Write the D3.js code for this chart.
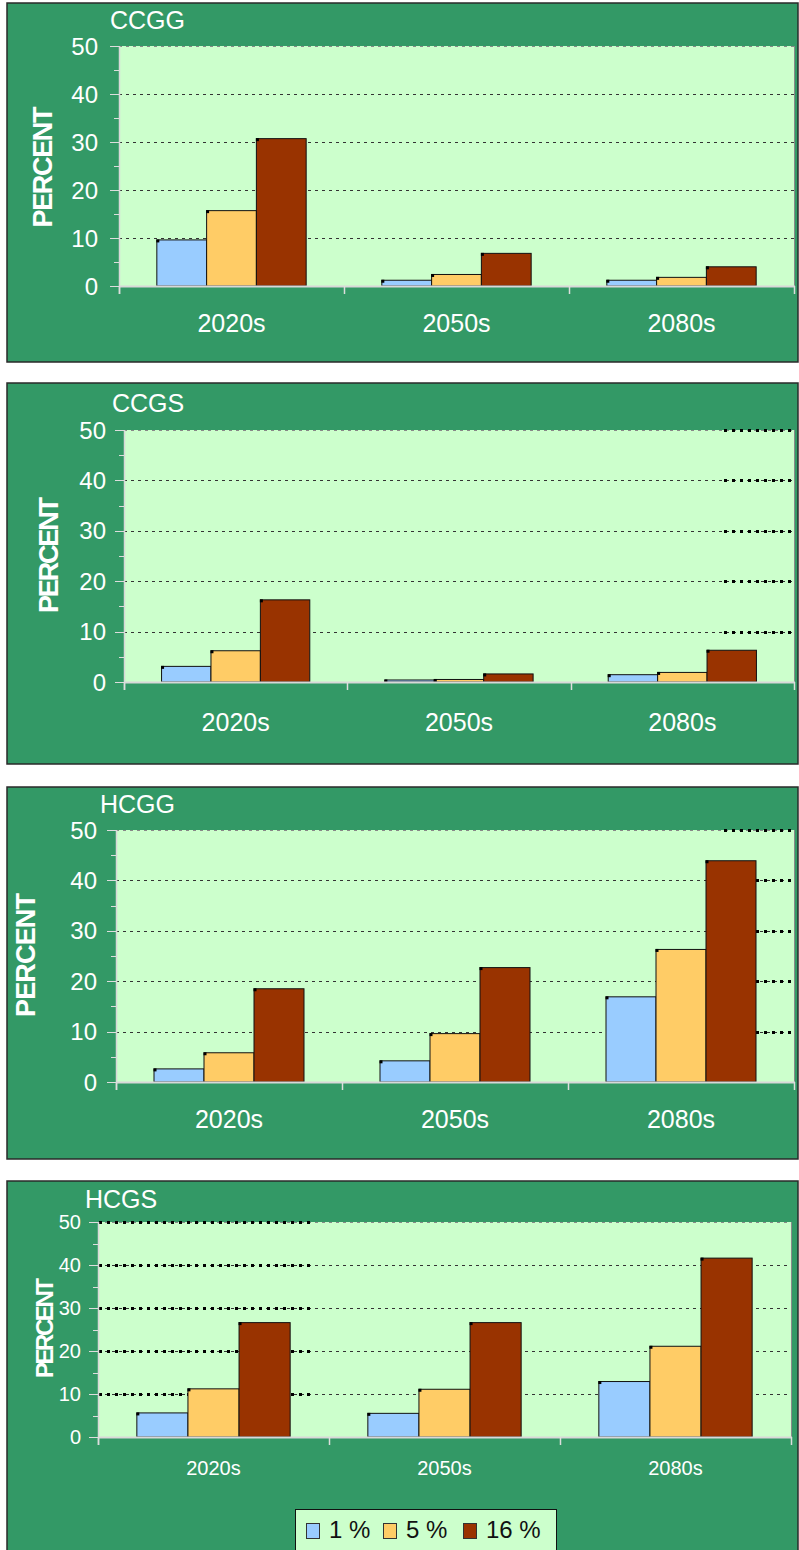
<!DOCTYPE html>
<html>
<head>
<meta charset="utf-8">
<script src="https://cdn.jsdelivr.net/npm/d3@7"></script>
<style>
  html, body { margin: 0; padding: 0; background: #ffffff; }
  svg { display: block; }
  text { font-family: "Liberation Sans", Arial, sans-serif; }
</style>
</head>
<body>
<svg id="chart" width="799" height="1550"></svg>
<script>
// Shared categories, series and ticks
const categories = ["2020s", "2050s", "2080s"];
const seriesLabels = ["1 %", "5 %", "16 %"];
const yTicks = [0, 10, 20, 30, 40, 50];
const yMinorTicks = [5, 15, 25, 35, 45];

// Percent values per period: [1 %, 5 %, 16 %]
const ccggValues = [[9.6, 15.7, 30.7], [1.2, 2.4, 6.8], [1.2, 1.8, 4.0]];
const ccgsValues = [[3.1, 6.2, 16.3], [0.4, 0.5, 1.6], [1.45, 1.9, 6.3]];
const hcggValues = [[2.6, 5.8, 18.5], [4.2, 9.6, 22.7], [16.9, 26.3, 43.9]];
const hcgsValues = [[5.6, 11.2, 26.6], [5.5, 11.1, 26.6], [12.9, 21.1, 41.6]];

const panelTitles = ["CCGG", "CCGS", "HCGG", "HCGS"];
const panelValues = [ccggValues, ccgsValues, hcggValues, hcgsValues];

const colors = ["#99CCFF", "#FFCC66", "#993300"];

// Layout of each panel frame and its plot area
const layouts = [
  { box: [7, 3, 791, 359], plot: { l: 119, t: 46, r: 794, b: 286 },
    title: { x: 110, y: 29, size: 25 }, tickSize: 24, tickGap: 21,
    catSize: 25, catDy: 46, yLab: { x: 42, y: 167, len: 121, size: 27 }, heavy: [] },
  { box: [7, 383, 791, 381], plot: { l: 124, t: 430, r: 794, b: 682 },
    title: { x: 112, y: 412, size: 25 }, tickSize: 24, tickGap: 18,
    catSize: 25, catDy: 49, yLab: { x: 48, y: 555, len: 116, size: 27 }, heavy: [[724, 792, [10, 20, 30, 40, 50]]] },
  { box: [7, 787, 791, 372], plot: { l: 116, t: 830, r: 794, b: 1082 },
    title: { x: 100, y: 813, size: 25 }, tickSize: 24, tickGap: 19,
    catSize: 25, catDy: 46, yLab: { x: 25, y: 955, len: 124, size: 27 }, heavy: [[724, 792, [10, 20, 30, 40, 50]]] },
  { box: [7, 1181, 791, 380], plot: { l: 98, t: 1222, r: 791, b: 1437 },
    title: { x: 85, y: 1208, size: 25 }, tickSize: 20, tickGap: 17,
    catSize: 20, catDy: 38, yLab: { x: 44, y: 1328, len: 100, size: 24 }, heavy: [[99, 310, [10, 20, 30, 40, 50]]] }
];

const svg = d3.select("#chart");

layouts.forEach((L, i) => {
  const values = panelValues[i];
  const g = svg.append("g");
  const P = L.plot;

  // Panel frame
  g.append("rect")
    .attr("x", L.box[0]).attr("y", L.box[1])
    .attr("width", L.box[2]).attr("height", L.box[3])
    .attr("fill", "#339966").attr("stroke", "#2a2a2a").attr("stroke-width", 1.5);

  // Plot background
  g.append("rect")
    .attr("x", P.l).attr("y", P.t)
    .attr("width", P.r - P.l).attr("height", P.b - P.t)
    .attr("fill", "#CCFFCC");

  const y = d3.scaleLinear().domain([0, 50]).range([P.b, P.t]);
  const x0 = d3.scaleBand().domain(categories).range([P.l, P.r]).padding(0);
  const x1 = d3.scaleBand().domain(seriesLabels).range([0, x0.bandwidth()])
    .paddingInner(0).paddingOuter(0.76);

  // Gridlines
  g.append("g").selectAll("line")
    .data(yTicks.filter(t => t > 0))
    .join("line")
    .attr("x1", P.l).attr("x2", P.r)
    .attr("y1", d => Math.round(y(d)) + 0.5).attr("y2", d => Math.round(y(d)) + 0.5)
    .attr("stroke", d => d === 50 ? "#888" : "#333")
    .attr("stroke-width", 1)
    .attr("stroke-dasharray", "3,4");

  // Heavier dotted gridline stretches
  L.heavy.forEach(([xa, xb, ticks]) => {
    g.append("g").selectAll("line")
      .data(ticks)
      .join("line")
      .attr("x1", xa).attr("x2", xb)
      .attr("y1", d => Math.round(y(d)) + 0.5).attr("y2", d => Math.round(y(d)) + 0.5)
      .attr("stroke", "#000")
      .attr("stroke-width", 3)
      .attr("stroke-dasharray", "3,5");
  });

  // Right border of plot
  g.append("line")
    .attr("x1", P.r + 0.5).attr("x2", P.r + 0.5)
    .attr("y1", P.t).attr("y2", P.b)
    .attr("stroke", "#8a8a8a").attr("stroke-width", 1);

  // Bars
  const groups = g.append("g").selectAll("g")
    .data(categories.map((c, ci) => ({ c, vals: values[ci] })))
    .join("g")
    .attr("transform", d => `translate(${x0(d.c)},0)`);

  const bars = groups.selectAll("g.bar")
    .data(d => d.vals.map((v, si) => ({ s: seriesLabels[si], v, si })))
    .join("g").attr("class", "bar");

  bars.append("rect")
    .attr("x", d => x1(d.s))
    .attr("y", d => y(d.v))
    .attr("width", x1.bandwidth())
    .attr("height", d => y(0) - y(d.v))
    .attr("fill", d => colors[d.si])
    .attr("stroke", "#111")
    .attr("stroke-width", 1);

  bars.append("rect")
    .attr("x", d => x1(d.s) - 0.5)
    .attr("y", d => y(d.v) - 0.5)
    .attr("width", 3).attr("height", 3)
    .attr("fill", "#000");

  // Axes lines
  g.append("line")
    .attr("x1", P.l).attr("x2", P.r + 1)
    .attr("y1", P.b + 0.5).attr("y2", P.b + 0.5)
    .attr("stroke", "#d8d8d8").attr("stroke-width", 2);
  g.append("line")
    .attr("x1", P.l + 0.5).attr("x2", P.l + 0.5)
    .attr("y1", P.t).attr("y2", P.b + 8)
    .attr("stroke", "#d8d8d8").attr("stroke-width", 1.5);

  // Y ticks
  g.append("g").selectAll("line.major")
    .data(yTicks).join("line")
    .attr("x1", P.l - 9).attr("x2", P.l)
    .attr("y1", d => Math.round(y(d)) + 0.5).attr("y2", d => Math.round(y(d)) + 0.5)
    .attr("stroke", "#dddddd").attr("stroke-width", 1);
  g.append("g").selectAll("line.minor")
    .data(yMinorTicks).join("line")
    .attr("x1", P.l - 5).attr("x2", P.l)
    .attr("y1", d => Math.round(y(d)) + 0.5).attr("y2", d => Math.round(y(d)) + 0.5)
    .attr("stroke", "#dddddd").attr("stroke-width", 1);

  g.append("g").selectAll("text")
    .data(yTicks).join("text")
    .attr("x", P.l - L.tickGap)
    .attr("y", d => y(d))
    .attr("dy", "0.36em")
    .attr("text-anchor", "end")
    .attr("fill", "#ffffff")
    .attr("font-size", L.tickSize)
    .text(d => d);

  // X category ticks and labels
  const bounds = categories.map(c => x0(c)).concat([P.r]);
  g.append("g").selectAll("line")
    .data(bounds).join("line")
    .attr("x1", d => Math.round(d) + 0.5).attr("x2", d => Math.round(d) + 0.5)
    .attr("y1", P.b).attr("y2", P.b + 8)
    .attr("stroke", "#dddddd").attr("stroke-width", 1.5);

  g.append("g").selectAll("text")
    .data(categories).join("text")
    .attr("x", d => x0(d) + x0.bandwidth() / 2)
    .attr("y", P.b + L.catDy)
    .attr("text-anchor", "middle")
    .attr("fill", "#ffffff")
    .attr("font-size", L.catSize)
    .text(d => d);

  // Panel title
  g.append("text")
    .attr("x", L.title.x).attr("y", L.title.y)
    .attr("fill", "#ffffff")
    .attr("font-size", L.title.size)
    .text(panelTitles[i]);

  // Y axis label
  g.append("text")
    .attr("transform", `translate(${L.yLab.x},${L.yLab.y}) rotate(-90)`)
    .attr("text-anchor", "middle")
    .attr("dy", "0.36em")
    .attr("fill", "#ffffff")
    .attr("font-weight", "bold")
    .attr("font-size", L.yLab.size)
    .attr("textLength", L.yLab.len)
    .attr("lengthAdjust", "spacing")
    .text("PERCENT");
});

// Legend
const legend = svg.append("g");
legend.append("rect")
  .attr("x", 295.5).attr("y", 1509.5)
  .attr("width", 261).attr("height", 60)
  .attr("fill", "#CCFFCC").attr("stroke", "#111").attr("stroke-width", 1);

const legendX = [306, 383, 463];
const items = legend.selectAll("g.item")
  .data(seriesLabels.map((s, i) => ({ s, i })))
  .join("g").attr("class", "item")
  .attr("transform", d => `translate(${legendX[d.i]},0)`);

items.append("rect")
  .attr("x", 0.5).attr("y", 1523.5)
  .attr("width", 13).attr("height", 15)
  .attr("fill", d => colors[d.i])
  .attr("stroke", "#333").attr("stroke-width", 1);

items.append("text")
  .attr("x", 23).attr("y", 1538)
  .attr("fill", "#111")
  .attr("font-size", 24)
  .text(d => d.s);
</script>
</body>
</html>
